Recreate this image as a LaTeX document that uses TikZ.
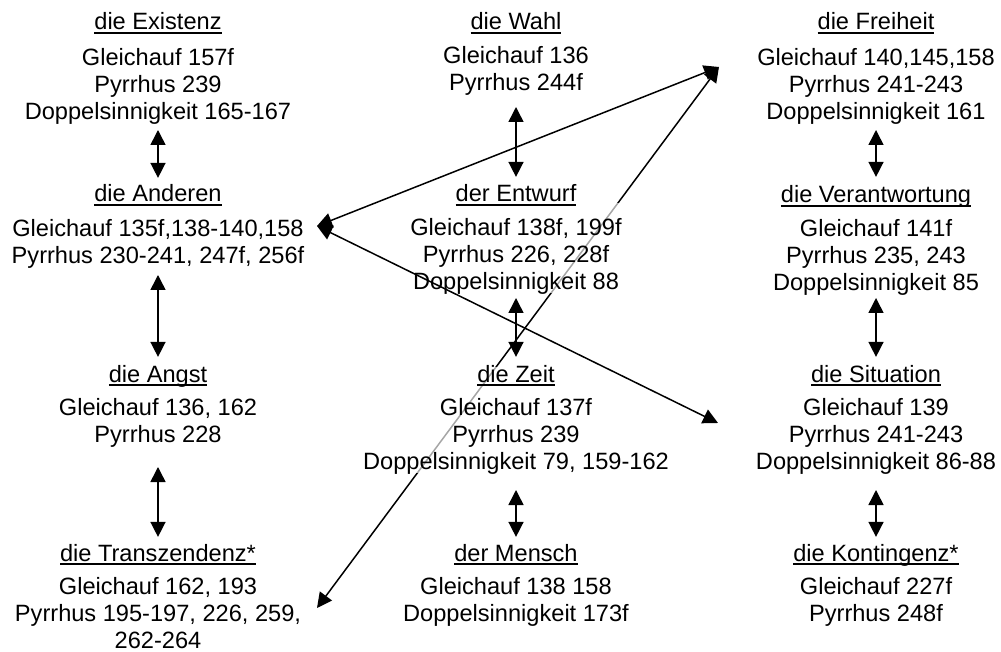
\documentclass[tikz,border=0pt]{standalone}
\usepackage{fontspec}
\setmainfont{Liberation Sans}
\usetikzlibrary{arrows.meta,calc}
\pgfdeclarelayer{bg}
\pgfsetlayers{bg,main}
\begin{document}
\begin{tikzpicture}[x=1pt,y=-1pt,
  lbl/.style={font=\fontsize{23.6}{27}\selectfont, inner sep=0pt, outer sep=0pt},
  head/.style={lbl, anchor=base},
  body/.style={lbl, anchor=north, align=center},
  dbl/.style={{Triangle[width=15pt,length=15pt]}-{Triangle[width=15pt,length=15pt]}, line width=1.5pt},
  uline/.style={line width=1.5pt},
  veil/.style={fill=white, fill opacity=0.65}
]
\useasboundingbox (0,0) rectangle (1001,652);

% column 1
\node[head] (exh) at (158,30) {die Existenz};
\node[body] (exb) at (158,48) {Gleichauf 157f\\Pyrrhus 239\\Doppelsinnigkeit 165-167};
\node[head] (anh) at (158,202) {die Anderen};
\node[body] (anb) at (158,219) {Gleichauf 135f,138-140,158\\Pyrrhus 230-241, 247f, 256f};
\node[head] (agh) at (158,382) {die Angst};
\node[body] (agb) at (158,398) {Gleichauf 136, 162\\Pyrrhus 228};
\node[head] (tzh) at (158,561) {die Transzendenz*};
\node[body] (tzb) at (158,577) {Gleichauf 162, 193\\Pyrrhus 195-197, 226, 259,\\262-264};

% column 2
\node[head] (wah) at (516,30) {die Wahl};
\node[body] (wab) at (516,46) {Gleichauf 136\\Pyrrhus 244f};
\node[head] (enh) at (516,202) {der Entwurf};
\node[body] (enb) at (516,218) {Gleichauf 138f, 199f\\Pyrrhus 226, 228f\\Doppelsinnigkeit 88};
\node[head] (zth) at (516,382) {die Zeit};
\node[body] (ztb) at (516,398) {Gleichauf 137f\\Pyrrhus 239\\Doppelsinnigkeit 79, 159-162};
\node[head] (meh) at (516,561) {der Mensch};
\node[body] (meb) at (516,577) {Gleichauf 138 158\\Doppelsinnigkeit 173f};

% column 3
\node[head] (frh) at (876,30) {die Freiheit};
\node[body] (frb) at (876,48) {Gleichauf 140,145,158\\Pyrrhus 241-243\\Doppelsinnigkeit 161};
\node[head] (veh) at (876,203) {die Verantwortung};
\node[body] (veb) at (876,219) {Gleichauf 141f\\Pyrrhus 235, 243\\Doppelsinnigkeit 85};
\node[head] (sih) at (876,382) {die Situation};
\node[body] (sib) at (876,398) {Gleichauf 139\\Pyrrhus 241-243\\Doppelsinnigkeit 86-88};
\node[head] (koh) at (876,561) {die Kontingenz*};
\node[body] (kob) at (876,577) {Gleichauf 227f\\Pyrrhus 248f};

% underlines
\foreach \n in {exh,anh,agh,tzh,wah,enh,zth,meh,frh,veh,sih,koh}
  \draw[uline] ([yshift=-3pt]\n.base west) -- ([yshift=-3pt]\n.base east);

% vertical double arrows
\draw[dbl, shorten <=6pt, shorten >=7pt] (exb.south) -- (anh.north);
\draw[dbl, shorten <=7pt, shorten >=8pt] (anb.south) -- (agh.north);
\draw[dbl, shorten <=20pt, shorten >=7pt] (agb.south) -- (tzh.north);
\draw[dbl, shorten <=12pt, shorten >=8pt] (wab.south) -- (enh.north);
\draw[dbl, shorten <=4pt, shorten >=8pt] (enb.south) -- (zth.north);
\draw[dbl, shorten <=16pt, shorten >=7pt] (ztb.south) -- (meh.north);
\draw[dbl, shorten <=6pt, shorten >=9pt] (frb.south) -- (veh.north);
\draw[dbl, shorten <=3pt, shorten >=8pt] (veb.south) -- (sih.north);
\draw[dbl, shorten <=16pt, shorten >=7pt] (sib.south) -- (koh.north);

% end points of the long connectors
\coordinate (anR) at ($(anb.north)+(159,7)$);
\coordinate (frL) at ($(frb.north)+(-157,19)$);
\coordinate (siL) at ($(sib.north)+(-158,25)$);
\coordinate (tzR) at ($(tzb.north)+(159,31)$);

\begin{pgfonlayer}{bg}
  \draw[dbl] (tzR) -- (frL);
  \fill[veil] ($(enb.north west)+(-10,-15)$) rectangle ($(enb.south east)+(10,-1)$);
  \fill[veil] ($(zth.north -| ztb.west)+(-5,2)$) rectangle ($(ztb.south east)+(5,-1)$);
\end{pgfonlayer}

\draw[dbl] (anR) -- (frL);
\draw[dbl] (anR) -- (siL);
\end{tikzpicture}
\end{document}
